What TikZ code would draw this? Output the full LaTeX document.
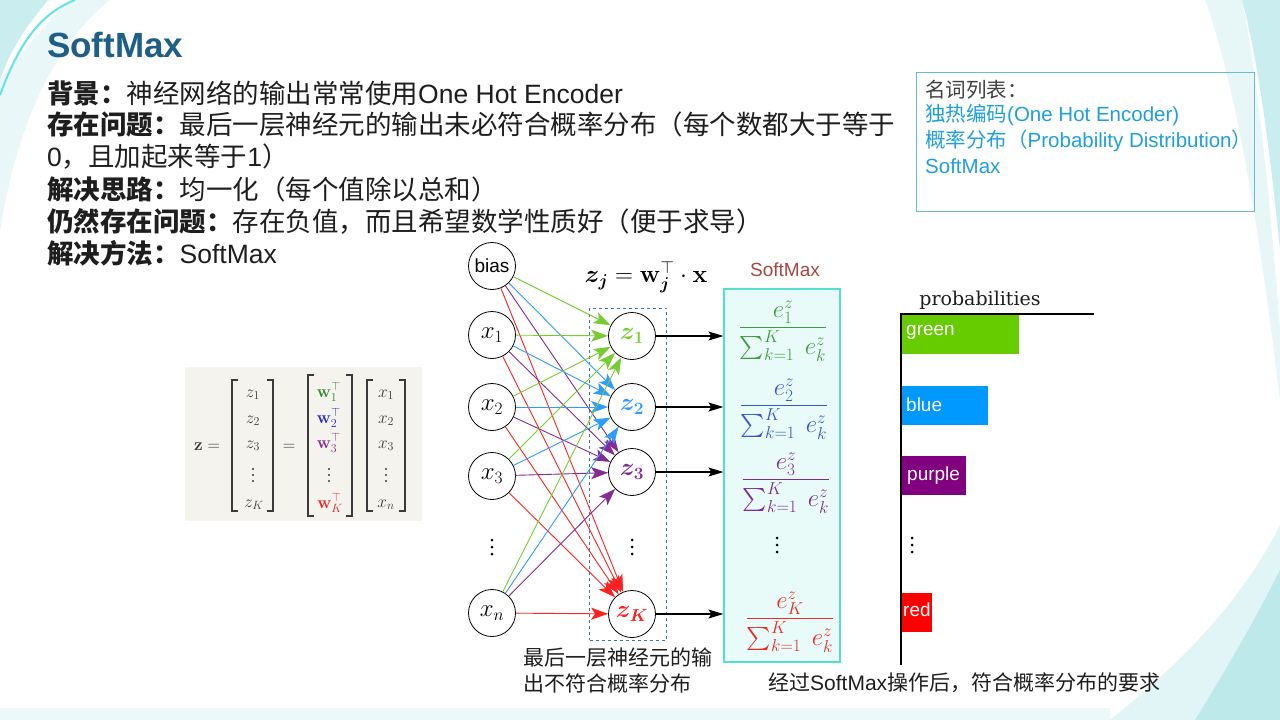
\documentclass[tikz,border=0pt]{standalone}
\usepackage{amsmath,amssymb}
\usepackage[no-math]{fontspec}
\setmainfont{Liberation Sans}
\newfontfamily\cjk{Noto Sans CJK SC}
\newfontfamily\slab{DejaVu Serif}
\usetikzlibrary{arrows.meta}

\definecolor{titleblue}{HTML}{1D5F86}
\definecolor{txt}{HTML}{1E1E1E}
\definecolor{gloss}{HTML}{1FA0DA}
\definecolor{glossframe}{HTML}{6CB8D8}
\definecolor{ngreen}{HTML}{77CC33}
\definecolor{nblue}{HTML}{2E9BFF}
\definecolor{npurple}{HTML}{862A95}
\definecolor{nred}{HTML}{FF2222}
\definecolor{fgreen}{HTML}{3C9E3C}
\definecolor{fblue}{HTML}{3458CC}
\definecolor{fpurple}{HTML}{7B2D9B}
\definecolor{fred}{HTML}{E62A2A}
\definecolor{mgreen}{HTML}{2A8A2A}
\definecolor{mblue}{HTML}{2424D8}
\definecolor{mpurple}{HTML}{8A2A8A}
\definecolor{mred}{HTML}{EE2222}
\definecolor{smframe}{HTML}{55E0CC}
\definecolor{smfill}{HTML}{E9FBF8}
\definecolor{smlabel}{HTML}{A8473F}
\definecolor{dashblue}{HTML}{3A78A8}
\definecolor{bgreen}{HTML}{66CC00}
\definecolor{bblue}{HTML}{0099FF}
\definecolor{bpurple}{HTML}{800080}
\definecolor{bred}{HTML}{FF0000}
\definecolor{matbg}{HTML}{F5F3EE}
\definecolor{decoteal}{HTML}{8AD8DC}
\definecolor{mattxt}{HTML}{3A3A3A}

\newcommand{\lbl}[1]{{\cjk\bfseries #1}}
\newcommand{\zh}[1]{{\cjk #1}}

\begin{document}
\begin{tikzpicture}[x=1pt,y=-1pt,
  body/.style={anchor=west, inner sep=0pt, text=txt, font=\fontsize{26.5}{30}\selectfont},
  glossline/.style={anchor=west, inner sep=0pt, text=gloss, font=\fontsize{20.5}{24}\selectfont},
  caption/.style={anchor=west, inner sep=0pt, text=txt, font=\fontsize{21}{24}\selectfont},
  neuron/.style={circle, draw=black, line width=0.8pt, minimum size=47pt, inner sep=0pt, font=\fontsize{25}{29}\selectfont},
  edge/.style={line width=0.9pt, -{Stealth[length=17pt,width=12pt,inset=4pt]}},
  smarrow/.style={line width=1.1pt, -{Stealth[length=15pt,width=9pt,inset=3pt]}},
  frac/.style={inner sep=0pt, font=\fontsize{23}{27}\selectfont},
  bar/.style={anchor=north west, inner sep=0pt, minimum height=39pt},
  barlabel/.style={anchor=west, inner sep=0pt, text=white, font=\fontsize{19}{22}\selectfont},
  entry/.style={inner sep=0pt, text=mattxt, font=\fontsize{17}{20}\selectfont},
  bracket/.style={draw=mattxt, line width=1.3pt},
  vdotspic/.pic={\fill (0,-7) circle (1.5pt) (0,0) circle (1.5pt) (0,7) circle (1.5pt);},
  smalldots/.pic={\fill[mattxt] (0,-6) circle (1.1pt) (0,0) circle (1.1pt) (0,6) circle (1.1pt);}
]
\path[use as bounding box] (0,0) rectangle (1280,720);
\fill[white] (0,0) rectangle (1280,720);

% background decoration
\fill[decoteal, opacity=0.45] (0,0) -- (48,0) .. controls (28,25) and (12,45) .. (0,80) -- cycle;
\draw[decoteal!70!cyan, line width=2pt] (75,0) .. controls (45,12) and (22,35) .. (0,95);
\fill[decoteal, opacity=0.18] (0,80) .. controls (15,60) and (40,30) .. (70,0) -- (110,0) .. controls (60,40) and (20,110) .. (0,230) -- cycle;
\fill[decoteal, opacity=0.45] (1242,0) -- (1280,0) -- (1280,250) .. controls (1270,150) and (1258,60) .. (1242,0) -- cycle;
\fill[decoteal, opacity=0.2] (1205,0) -- (1242,0) .. controls (1258,80) and (1270,200) .. (1280,330) -- (1280,400) .. controls (1262,250) and (1238,90) .. (1205,0) -- cycle;
\fill[decoteal, opacity=0.55] (1195,720) .. controls (1235,655) and (1260,610) .. (1280,570) -- (1280,720) -- cycle;
\fill[decoteal, opacity=0.25] (1110,720) .. controls (1185,660) and (1242,600) .. (1280,525) -- (1280,570) .. controls (1260,610) and (1235,655) .. (1195,720) -- cycle;
\fill[decoteal, opacity=0.15] (0,708) rectangle (1110,720);

% title and body
\node[anchor=west, inner sep=0pt, text=titleblue, font=\fontsize{35}{40}\selectfont\bfseries] (title) at (47,45) {SoftMax};
\node[body] (l1) at (47,93) {\lbl{背景：}\zh{神经网络的输出常常使用}One Hot Encoder};
\node[body] (l2) at (47,124) {\lbl{存在问题：}\zh{最后一层神经元的输出未必符合概率分布（每个数都大于等于}};
\node[body] (l3) at (47,157) {0\zh{，且加起来等于}1\zh{）}};
\node[body] (l4) at (47,189) {\lbl{解决思路：}\zh{均一化（每个值除以总和）}};
\node[body] (l5) at (47,221) {\lbl{仍然存在问题：}\zh{存在负值，而且希望数学性质好（便于求导）}};
\node[body] (l6) at (47,253) {\lbl{解决方法：}SoftMax};

% glossary
\node[draw=glossframe, line width=1pt, anchor=north west, minimum width=338pt, minimum height=139pt, inner sep=0pt] (glossbox) at (916,72) {};
\node[glossline, text=txt!85] (g0) at (925,90) {\zh{名词列表：}};
\node[glossline] (g1) at (925,115) {\zh{独热编码}(One Hot Encoder)};
\node[glossline] (g2) at (925,141) {\zh{概率分布（}Probability Distribution\zh{）}};
\node[glossline] (g3) at (925,166) {SoftMax};

% matrix equation (drawn)
\fill[matbg] (185,367) rectangle (422,521);
\node[entry, anchor=base] (mz) at (207,450) {$\mathbf{z}=$};
% bracket 1
\draw[bracket] (238,380) -- (232,380) -- (232,511) -- (238,511);
\draw[bracket] (267,380) -- (273,380) -- (273,511) -- (267,511);
\node[entry, anchor=base] (ez1) at (253,397) {$z_1$};
\node[entry, anchor=base] (ez2) at (253,423) {$z_2$};
\node[entry, anchor=base] (ez3) at (253,448) {$z_3$};
\pic at (253,475) {smalldots};
\node[entry, anchor=base] (ezK) at (254,507) {$z_K$};
\node[entry, anchor=base] (meq) at (289,450) {$=$};
% bracket 2
\draw[bracket] (314,375) -- (308,375) -- (308,516) -- (314,516);
\draw[bracket] (346,375) -- (352,375) -- (352,516) -- (346,516);
\node[entry, anchor=base, text=mgreen] (ew1) at (329,397) {$\mathbf{w}_1^{\top}$};
\node[entry, anchor=base, text=mblue] (ew2) at (329,423) {$\mathbf{w}_2^{\top}$};
\node[entry, anchor=base, text=mpurple] (ew3) at (329,448) {$\mathbf{w}_3^{\top}$};
\pic at (329,475) {smalldots};
\node[entry, anchor=base, text=mred] (ewK) at (330,508) {$\mathbf{w}_K^{\top}$};
% bracket 3
\draw[bracket] (373,380) -- (367,380) -- (367,511) -- (373,511);
\draw[bracket] (399,380) -- (405,380) -- (405,511) -- (399,511);
\node[entry, anchor=base] (ex1) at (386,397) {$x_1$};
\node[entry, anchor=base] (ex2) at (386,423) {$x_2$};
\node[entry, anchor=base] (ex3) at (386,448) {$x_3$};
\pic at (386,475) {smalldots};
\node[entry, anchor=base] (exn) at (386,507) {$x_n$};

% network
\node[neuron, font=\fontsize{19}{22}\selectfont] (nbias) at (492,266) {bias};
\node[neuron] (nx1) at (492,335) {$x_1$};
\node[neuron] (nx2) at (492,407) {$x_2$};
\node[neuron] (nx3) at (492,476) {$x_3$};
\pic at (492,547) {vdotspic};
\node[neuron] (nxn) at (492,613) {$x_n$};

\node[draw=dashblue, dashed, line width=0.8pt, minimum width=77pt, minimum height=332pt, inner sep=0pt] (dashbox) at (628,474) {};

\node[neuron, text=ngreen] (z1) at (632,336) {$\boldsymbol{z_1}$};
\node[neuron, text=nblue] (z2) at (632,407) {$\boldsymbol{z_2}$};
\node[neuron, text=npurple] (z3) at (632,472) {$\boldsymbol{z_3}$};
\pic at (632,547) {vdotspic};
\node[neuron, text=nred] (zK) at (632,614) {$\boldsymbol{z_K}$};

\foreach \s in {nbias,nx1,nx2,nx3,nxn}{
  \draw[edge, ngreen] (\s) -- (z1);
  \draw[edge, nblue] (\s) -- (z2);
  \draw[edge, npurple] (\s) -- (z3);
  \draw[edge, nred] (\s) -- (zK);
}

\node[inner sep=0pt, font=\fontsize{23}{27}\selectfont] (zeq) at (646,277) {$\boldsymbol{z_j}=\mathbf{w}_{\boldsymbol{j}}^{\top}\cdot\mathbf{x}$};

% softmax box
\node[draw=smframe, fill=smfill, line width=1.2pt, minimum width=116pt, minimum height=373pt, inner sep=0pt] (smbox) at (782,475.5) {};
\node[inner sep=0pt, text=smlabel, font=\fontsize{19}{22}\selectfont] (smlabel) at (785,270) {SoftMax};
\draw[smarrow] (z1) -- (z1 -| smbox.west);
\draw[smarrow] (z2) -- (z2 -| smbox.west);
\draw[smarrow] (z3) -- (z3 -| smbox.west);
\draw[smarrow] (zK) -- (zK -| smbox.west);

\node[frac, text=fgreen] (f1) at (783,331) {$\displaystyle\frac{e_1^z}{\sum_{k=1}^{K}\ e_k^z}$};
\node[frac, text=fblue] (f2) at (784,409) {$\displaystyle\frac{e_2^z}{\sum_{k=1}^{K}\ e_k^z}$};
\node[frac, text=fpurple] (f3) at (786,483) {$\displaystyle\frac{e_3^z}{\sum_{k=1}^{K}\ e_k^z}$};
\pic at (777,545) {vdotspic};
\node[frac, text=fred] (fK) at (790,622) {$\displaystyle\frac{e_K^z}{\sum_{k=1}^{K}\ e_k^z}$};

% bar chart
\node[inner sep=0pt, font=\slab\fontsize{19}{22}\selectfont, text=txt] (problabel) at (980,300) {probabilities};
\coordinate (axtop) at (901,314);
\coordinate (axbot) at (901,665);
\coordinate (axright) at (1094,314);
\draw[line width=1.5pt, black] (axbot) -- (axtop) -- (axright);
\node[bar, fill=bgreen, minimum width=117pt] (bargreen) at (902,315) {};
\node[bar, fill=bblue, minimum width=86pt] (barblue) at (902,386) {};
\node[bar, fill=bpurple, minimum width=64pt] (barpurple) at (902,456) {};
\node[bar, fill=bred, minimum width=30pt] (barred) at (902,593) {};
\node[barlabel] (tgreen) at (906,332) {green};
\node[barlabel] (tblue) at (906,405) {blue};
\node[barlabel] (tpurple) at (907,476) {purple};
\node[barlabel] (tred) at (903,610) {red};
\pic at (912,545) {vdotspic};

% captions
\node[caption] (c1) at (523,658) {\zh{最后一层神经元的输}};
\node[caption] (c2) at (523,683) {\zh{出不符合概率分布}};
\node[caption] (c3) at (768,683) {\zh{经过}SoftMax\zh{操作后，符合概率分布的要求}};
\end{tikzpicture}
\end{document}
